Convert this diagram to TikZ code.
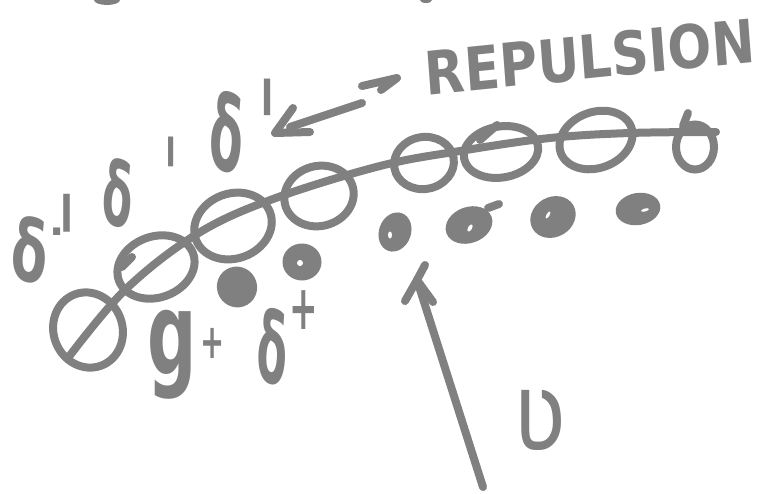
\documentclass[tikz,border=0pt]{standalone}
\usepackage{fontspec}
\newfontfamily\dv{DejaVu Sans}
\usetikzlibrary{shapes.geometric}
\definecolor{ink}{HTML}{808080}
\begin{document}
\begin{tikzpicture}[x=1pt,y=-1pt,
  inkline/.style={draw=ink, line width=8pt, line cap=round, line join=round},
  bead/.style={ellipse, draw=ink, line width=8pt, inner sep=0pt},
  blob/.style={ellipse, fill=ink, inner sep=0pt},
  hole/.style={ellipse, fill=white, inner sep=0pt},
  glyph/.style={text=ink, inner sep=0pt},
]
\useasboundingbox (0,0) rectangle (768,493);
\clip (0,0) rectangle (768,493);

% cut-off marks at the top edge
\fill[ink] (107,0) ellipse [x radius=13pt, y radius=5pt];
\fill[ink] (426,0) ellipse [x radius=6pt, y radius=3pt];

% beads (large ellipses)
\node[bead, minimum width=69pt, minimum height=76pt, rotate=20] (b1) at (88,330) {};
\node[bead, minimum width=79pt, minimum height=61pt, rotate=20] (b2) at (156,267) {};
\node[bead, minimum width=79pt, minimum height=65pt, rotate=20] (b3) at (233,226) {};
\node[bead, minimum width=70pt, minimum height=60pt, rotate=15] (b4) at (319,196) {};
\node[bead, minimum width=60pt, minimum height=52pt, rotate=10] (b5) at (424,163) {};
\node[bead, minimum width=75pt, minimum height=51pt, rotate=10] (b6) at (501,152) {};
\node[bead, minimum width=75pt, minimum height=56pt, rotate=20] (b7) at (596,140) {};
\node[bead, minimum width=38pt, minimum height=45pt] (b8) at (695,147) {};

% chain line through the beads
\coordinate (c0) at (68,358);
\coordinate (c9) at (716,132);
\draw[inkline] plot[smooth, tension=0.6] coordinates
  {(c0) (125,290) (197,234) (273,199) (380,166) (460,151) (550,138) (630,133) (c9)};
\draw[inkline] (122,267) -- (132,257);
\draw[inkline] (480,140) -- (497,125);
\draw[inkline] (688,113) -- (683,126);

% small dots
\node[blob, minimum width=40pt, minimum height=41pt, rotate=30] (d1) at (237,287) {};
\node[blob, minimum width=39pt, minimum height=37pt] (d2) at (302,262) {};
\node[hole, minimum width=6pt, minimum height=6pt] (h2) at (300,263) {};
\node[blob, minimum width=32pt, minimum height=40pt, rotate=-20] (d3) at (395,232) {};
\node[hole, minimum width=4pt, minimum height=7pt] (h3) at (390,235) {};
\node[blob, minimum width=48pt, minimum height=36pt, rotate=20] (d4) at (469,225) {};
\node[hole, minimum width=4pt, minimum height=8pt, rotate=-30] (h4) at (470,228) {};
\draw[inkline] (488,208) -- (499,204);
\node[blob, minimum width=47pt, minimum height=40pt, rotate=30] (d5) at (553,217) {};
\node[hole, minimum width=3pt, minimum height=8pt, rotate=-30] (h5) at (548,215) {};
\node[blob, minimum width=45pt, minimum height=32pt, rotate=10] (d6) at (638,209) {};
\node[hole, minimum width=8pt, minimum height=3pt, rotate=15] (h6) at (645,210) {};

% delta labels (left)
\node[glyph, font={\dv\bfseries\fontsize{85}{90}\selectfont}, xscale=0.62, rotate=-8] (dl1) at (30,250) {δ};
\node[glyph, font={\dv\bfseries\fontsize{40}{45}\selectfont}] (dot1) at (57,232) {.};
\node[glyph, font={\dv\fontsize{140}{150}\selectfont}, xscale=0.7, anchor=north] (p1) at (67,194) {ˈ};
\node[glyph, font={\dv\bfseries\fontsize{88}{92}\selectfont}, xscale=0.5, rotate=-10] (dl2) at (118,193) {δ};
\node[glyph, font={\dv\fontsize{110}{120}\selectfont}, xscale=0.7, anchor=north] (p2) at (171,137) {ˈ};
\node[glyph, font={\dv\bfseries\fontsize{104}{110}\selectfont}, xscale=0.47, rotate=-10] (dl3) at (227,132) {δ};
\node[glyph, font={\dv\fontsize{135}{145}\selectfont}, xscale=0.7, anchor=north] (p3) at (267,79) {ˈ};

% double arrow to REPULSION
\coordinate (la) at (275,133);
\coordinate (la1) at (293,108);
\coordinate (la2) at (310,132);
\coordinate (ls) at (290,127);
\coordinate (le) at (362,103);
\draw[inkline] (la1) -- (la) -- (la2);
\draw[inkline] (ls) -- (le);
\coordinate (ra0) at (362,86);
\coordinate (ra) at (397,78);
\coordinate (ra1) at (381,90);
\draw[inkline] (ra0) -- (ra) -- (ra1);

\node[glyph, font={\dv\bfseries\fontsize{60}{64}\selectfont}, xscale=0.86, rotate=5] (rep) at (590,57) {REPULSION};

% delta-plus labels (bottom)
\node[glyph, font={\dv\bfseries\fontsize{115}{125}\selectfont}, xscale=0.6] (g1) at (172,355) {g};
\node[glyph, font={\dv\bfseries\fontsize{48}{55}\selectfont}, xscale=0.6] (pl1) at (213,343) {+};
\node[glyph, font={\dv\bfseries\fontsize{98}{104}\selectfont}, xscale=0.45, rotate=-8] (dl4) at (273,347) {δ};
\node[glyph, font={\dv\bfseries\fontsize{62}{70}\selectfont}, xscale=0.55] (pl2) at (304,310) {+};

% velocity arrow
\coordinate (vtail) at (483,487);
\coordinate (vtip) at (417,280);
\draw[inkline] (vtail) -- (vtip);
\draw[inkline] (405,301) -- (vtip) -- (433,302);
\draw[inkline] (vtip) -- (425,265);
\node[glyph, font={\dv\fontsize{110}{120}\selectfont}, xscale=0.8] (vel) at (540,420) {ʋ};
\end{tikzpicture}
\end{document}
